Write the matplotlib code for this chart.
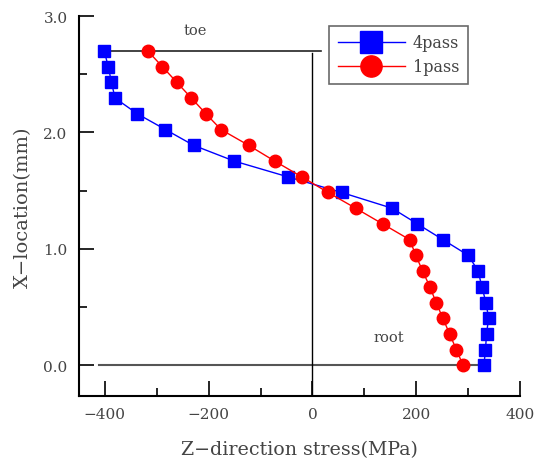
import numpy as np
import matplotlib
matplotlib.use("Agg")
import matplotlib.pyplot as plt
from matplotlib.ticker import MultipleLocator

plt.rcParams["font.family"] = ["DejaVu Serif"]

# position through the weld (mm), 21 stations from root to toe
x_loc = [2.70, 2.565, 2.43, 2.295, 2.16, 2.025, 1.89, 1.755, 1.62, 1.485, 1.35,
         1.215, 1.08, 0.945, 0.81, 0.675, 0.54, 0.405, 0.27, 0.135, 0.0]

# Z-direction residual stress (MPa)
stress_4pass = [-401, -393, -387, -380, -337, -283, -229, -151, -48, 56, 153,
                202, 251, 300, 319, 326, 334, 339, 335, 333, 330]
stress_1pass = [-317, -289, -261, -233, -205, -176, -123, -73, -21, 30, 83,
                135, 187, 199, 212, 226, 238, 251, 264, 277, 290]

fig = plt.figure(figsize=(5.44, 4.60), dpi=100)
ax = fig.add_axes([0.1447, 0.1376, 0.8117, 0.8254])

# reference lines for toe / root and zero stress
ax.plot([-410, 17], [2.7, 2.7], color="#222222", lw=1.2, zorder=1)
ax.plot([-410, 337], [0.0, 0.0], color="#555555", lw=1.5, zorder=1)
ax.plot([0, 0], [-0.3, 2.68], color="black", lw=1.0, zorder=1)

ax.plot(stress_4pass, x_loc, color="blue", marker="s", ms=9, lw=1.0,
        label="4pass", zorder=3)
ax.plot(stress_1pass, x_loc, color="red", marker="o", ms=9, lw=1.0,
        label="1pass", zorder=3)

ax.text(-226, 2.88, "toe", fontsize=10.5, color="#444444", ha="center", va="center")
ax.text(147, 0.24, "root", fontsize=10.5, color="#444444", ha="center", va="center")

ax.set_xlim(-450, 400)
ax.set_ylim(-0.26, 3.0)
ax.xaxis.set_major_locator(MultipleLocator(200))
ax.xaxis.set_minor_locator(MultipleLocator(100))
ax.yaxis.set_major_locator(MultipleLocator(1.0))
ax.yaxis.set_minor_locator(MultipleLocator(0.5))
ax.yaxis.set_major_formatter(plt.FormatStrFormatter("%.1f"))

for side in ("top", "right"):
    ax.spines[side].set_visible(False)
for side in ("left", "bottom"):
    ax.spines[side].set_linewidth(1.5)

ax.tick_params(which="major", direction="in", length=11, width=1.2,
               labelsize=11, pad=8, colors="black", labelcolor="#444444")
ax.tick_params(which="minor", direction="in", length=5.5, width=1.2)

ax.set_xlabel("Z\u2212direction stress(MPa)", fontsize=13.7, color="#444444", labelpad=14)
ax.set_ylabel("X\u2212location(mm)", fontsize=14, color="#444444", labelpad=8)

leg = ax.legend(loc="upper left", bbox_to_anchor=(0.567, 0.975), fontsize=11.5,
                markerscale=1.7, handlelength=4.2, frameon=True, fancybox=False,
                borderpad=0.55, labelspacing=0.45, handletextpad=0.5,
                borderaxespad=0)
leg.get_frame().set_edgecolor("#444444")
leg.get_frame().set_linewidth(1.2)
for t in leg.get_texts():
    t.set_color("#444444")

fig.savefig("out.png", dpi=100)
